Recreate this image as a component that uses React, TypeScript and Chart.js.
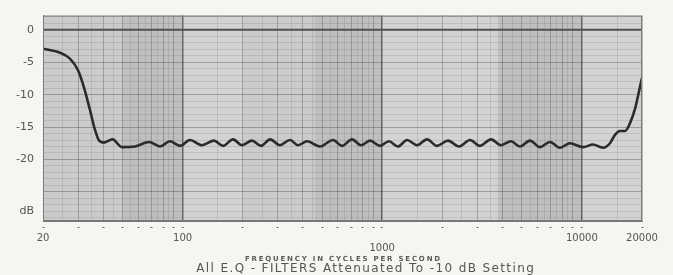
import { useEffect, useRef } from 'react';
import { Chart, registerables } from 'chart.js';

Chart.register(...registerables);

// ---- data ----
const FREQ_HZ = [
  20, 24.2, 27.2, 29.9, 32.1, 34.4, 36.4, 38.2, 40.4, 44.6, 49.7, 57.8, 67.9, 77.1, 86.5, 97.1,
  108.9, 125.1, 143.7, 159.5, 178.9, 198.4, 222.7, 247.1, 274.2, 307.6, 345.2, 378.6, 420, 487.8,
  566.8, 629, 705.8, 782.8, 868.4, 974.6, 1081, 1200, 1331, 1493, 1676, 1880, 2134, 2424, 2752,
  3088, 3506, 3934, 4416, 4898, 5496, 6168, 6922, 7768, 8716, 10126, 11364, 12752, 13824, 14644,
  15516, 16438, 17416, 18446, 19320, 20000,
];
const RESPONSE_DB = [
  -2.9, -3.5, -4.4, -6.2, -8.9, -12.4, -15.4, -17.1, -17.4, -16.9, -18.1, -18.0, -17.3, -18.0, -17.2, -17.9,
  -17.0, -17.8, -17.1, -17.9, -16.9, -17.8, -17.1, -17.9, -16.9, -17.8, -17.0, -17.8, -17.2, -18.0,
  -17.0, -17.9, -16.9, -17.8, -17.1, -17.9, -17.2, -18.0, -17.0, -17.8, -16.9, -17.9, -17.1, -18.0, -17.0,
  -17.9, -16.9, -17.8, -17.2, -18.0, -17.1, -18.1, -17.3, -18.2, -17.5, -18.1, -17.7, -18.2, -17.5, -16.2,
  -15.6, -15.6, -14.4, -12.2, -9.5, -7.4,
];
const REF_FREQ_HZ = [20, 20000];
const REF_DB = [0, 0];

const X_LABEL_VALUES = [20, 100, 1000, 10000, 20000];
const X_LABELS = ['20', '100', '1000', '10000', '20000'];
const Y_LABEL_VALUES = [0, -5, -10, -15, -20, -28];
const Y_LABELS = ['0', '-5', '-10', '-15', '-20', 'dB'];

const AXIS_TITLE = 'FREQUENCY IN CYCLES PER SECOND';
const CAPTION = 'All E.Q - FILTERS Attenuated To -10 dB Setting';

// shaded bands of the graph paper (Hz ranges)
const DARK_FROM = [50, 460, 3800];
const DARK_TO = [100, 1000, 10000];
const LIGHT_FROM = [100, 1000, 10000];
const LIGHT_TO = [200, 3800, 20000];

// ---- style ----
const PAGE_BG = '#f5f5f1';
const PAPER = '#cbcbcb';
const PAPER_DARK = '#bfbfbf';
const PAPER_LIGHT = '#d3d3d3';

function gridHz(): number[] {
  const out: number[] = [];
  for (const dec of [10, 100, 1000, 10000]) {
    for (let m = 1; m <= 9; m += 0.5) {
      const v = m * dec;
      if (v >= 20 && v <= 20000) out.push(v);
    }
  }
  return out;
}
const X_GRID = gridHz();

function isWhole(v: number) {
  const dec = Math.pow(10, Math.floor(Math.log10(v) + 1e-9));
  return Math.abs(v / dec - Math.round(v / dec)) < 1e-6;
}
function isDecade(v: number) {
  return v === 100 || v === 1000 || v === 10000;
}

const paperPlugin = {
  id: 'paper',
  beforeDraw(chart: any) {
    const { ctx, chartArea: a, scales } = chart;
    ctx.save();
    ctx.fillStyle = PAGE_BG;
    ctx.fillRect(0, 0, chart.width, chart.height);
    ctx.fillStyle = PAPER;
    ctx.fillRect(a.left, a.top, a.right - a.left, a.bottom - a.top);
    const x = scales.x;
    ctx.fillStyle = PAPER_DARK;
    DARK_FROM.forEach((f, i) => {
      const x0 = x.getPixelForValue(f);
      const x1 = x.getPixelForValue(DARK_TO[i]);
      ctx.fillRect(x0, a.top, x1 - x0, a.bottom - a.top);
    });
    ctx.fillStyle = PAPER_LIGHT;
    LIGHT_FROM.forEach((f, i) => {
      const x0 = x.getPixelForValue(f);
      const x1 = x.getPixelForValue(LIGHT_TO[i]);
      ctx.fillRect(x0, a.top, x1 - x0, a.bottom - a.top);
    });
    ctx.restore();
  },
  afterDraw(chart: any) {
    const { ctx, chartArea: a } = chart;
    ctx.save();
    ctx.strokeStyle = '#7a7a7a';
    ctx.lineWidth = 1;
    ctx.strokeRect(a.left + 0.5, a.top + 0.5, a.right - a.left - 1, a.bottom - a.top - 1);

    const drawSpaced = (text: string, font: string, color: string, cx: number, cy: number, target: number) => {
      ctx.font = font;
      (ctx as any).letterSpacing = '0px';
      const w = ctx.measureText(text).width;
      const sp = Math.max(0, (target - w) / text.length);
      (ctx as any).letterSpacing = sp + 'px';
      ctx.fillStyle = color;
      ctx.textAlign = 'center';
      ctx.textBaseline = 'middle';
      ctx.fillText(text, cx + sp / 2, cy);
      (ctx as any).letterSpacing = '0px';
    };
    drawSpaced(AXIS_TITLE, 'bold 7px "DejaVu Sans"', '#5a5a5a', (a.left + a.right) / 2, 259, 197);
    drawSpaced(CAPTION, '12px "DejaVu Sans"', '#555', 365, 268.5, 339);
    ctx.restore();
  },
};

export default function App() {
  const ref = useRef<HTMLCanvasElement>(null);
  useEffect(() => {
    document.body.style.margin = '0';
    document.body.style.background = PAGE_BG;
    const chart = new Chart(ref.current!, {
      type: 'line',
      data: {
        datasets: [
          {
            data: REF_FREQ_HZ.map((f, i) => ({ x: f, y: REF_DB[i] })),
            borderColor: '#505050',
            borderWidth: 2,
            pointRadius: 0,
            fill: false,
          },
          {
            data: FREQ_HZ.map((f, i) => ({ x: f, y: RESPONSE_DB[i] })),
            borderColor: '#2b2b2b',
            borderWidth: 2.6,
            pointRadius: 0,
            fill: false,
            cubicInterpolationMode: 'monotone',
          },
        ],
      },
      options: {
        animation: false,
        responsive: false,
        devicePixelRatio: 1,
        layout: { padding: { top: 8, right: 31, left: 0, bottom: 0 } },
        plugins: {
          legend: { display: false },
          tooltip: { enabled: false },
          title: { display: false },
        },
        scales: {
          x: {
            type: 'logarithmic',
            min: 20,
            max: 20000,
            afterBuildTicks: (s: any) => {
              s.ticks = X_GRID.map((v) => ({ value: v }));
            },
            afterFit: (s: any) => {
              s.height = 54;
            },
            ticks: {
              autoSkip: false,
              maxRotation: 0,
              minRotation: 0,
              padding: 5,
              color: '#555',
              font: { family: 'DejaVu Sans', size: 10, lineHeight: 1 },
              callback: (v: any) => {
                const i = X_LABEL_VALUES.indexOf(Number(v));
                if (i < 0) return '';
                return X_LABELS[i] === '1000' ? ['', X_LABELS[i]] : X_LABELS[i];
              },
            },
            grid: {
              color: (c: any) => {
                const v = c.tick?.value;
                if (isDecade(v)) return 'rgba(60,60,60,0.7)';
                if (isWhole(v)) return 'rgba(70,70,70,0.34)';
                return 'rgba(90,90,90,0.16)';
              },
              lineWidth: (c: any) => (isDecade(c.tick?.value) ? 1.5 : 1),
              drawTicks: true,
              tickLength: 7,
              tickWidth: 2,
              tickColor: (c: any) => (isWhole(c.tick?.value) ? '#666' : 'rgba(0,0,0,0)'),
              tickBorderDash: [0, 5, 2, 20],
            },
            border: { display: true, color: '#777', width: 1 },
          },
          y: {
            type: 'linear',
            min: -29.5,
            max: 2.2,
            afterBuildTicks: (s: any) => {
              const t: any[] = [];
              for (let v = 2; v >= -29; v--) t.push({ value: v });
              s.ticks = t;
            },
            afterFit: (s: any) => {
              s.width = 43;
            },
            ticks: {
              autoSkip: false,
              padding: 9,
              color: '#555',
              font: { family: 'DejaVu Sans', size: 11 },
              callback: (v: any) => {
                const i = Y_LABEL_VALUES.indexOf(Number(v));
                return i < 0 ? '' : Y_LABELS[i];
              },
            },
            grid: {
              drawTicks: false,
              color: (c: any) => {
                const v = c.tick?.value;
                return v % 5 === 0 ? 'rgba(60,60,60,0.36)' : 'rgba(80,80,80,0.15)';
              },
            },
            border: { display: true, color: '#777', width: 1 },
          },
        },
      },
      plugins: [paperPlugin],
    } as any);
    return () => chart.destroy();
  }, []);
  return <canvas ref={ref} width={673} height={275} style={{ display: 'block' }} />;
}
